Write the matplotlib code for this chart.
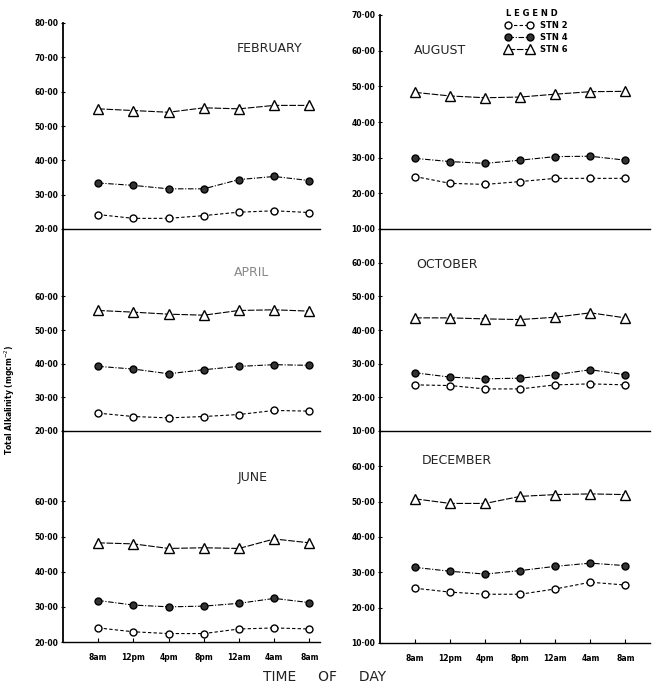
import matplotlib
matplotlib.use("Agg")
import matplotlib.pyplot as plt
from matplotlib.lines import Line2D

# ---------------- data ----------------
times = ["8am", "12pm", "4pm", "8pm", "12am", "4am", "8am"]
stations = ["STN 2", "STN 4", "STN 6"]

feb_stn2 = [24.2, 23.1, 23.1, 23.9, 24.9, 25.3, 24.8]
feb_stn4 = [33.4, 32.7, 31.7, 31.7, 34.4, 35.3, 34.1]
feb_stn6 = [55.0, 54.5, 54.0, 55.3, 55.0, 56.0, 56.0]

apr_stn2 = [25.3, 24.3, 23.9, 24.3, 24.9, 26.1, 25.9]
apr_stn4 = [39.2, 38.4, 37.0, 38.2, 39.2, 39.7, 39.5]
apr_stn6 = [55.8, 55.3, 54.7, 54.4, 55.8, 56.0, 55.6]

jun_stn2 = [24.0, 22.9, 22.4, 22.4, 23.7, 24.0, 23.7]
jun_stn4 = [31.8, 30.5, 30.0, 30.2, 31.0, 32.4, 31.2]
jun_stn6 = [48.2, 47.9, 46.6, 46.8, 46.6, 49.3, 48.2]

aug_stn2 = [24.7, 22.8, 22.5, 23.3, 24.2, 24.2, 24.2]
aug_stn4 = [29.8, 28.9, 28.4, 29.3, 30.3, 30.4, 29.3]
aug_stn6 = [48.3, 47.3, 46.8, 47.0, 47.8, 48.5, 48.6]

oct_stn2 = [23.7, 23.5, 22.5, 22.5, 23.7, 24.0, 23.7]
oct_stn4 = [27.3, 26.0, 25.5, 25.7, 26.7, 28.2, 26.7]
oct_stn6 = [43.6, 43.6, 43.3, 43.1, 43.8, 45.1, 43.6]

dec_stn2 = [25.5, 24.4, 23.8, 23.8, 25.3, 27.2, 26.4]
dec_stn4 = [31.4, 30.3, 29.5, 30.5, 31.7, 32.6, 31.9]
dec_stn6 = [50.8, 49.5, 49.5, 51.5, 52.0, 52.2, 52.0]

feb_ticks = [20, 30, 40, 50, 60, 70, 80]
apr_ticks = [20, 30, 40, 50, 60]
jun_ticks = [20, 30, 40, 50, 60]
aug_ticks = [10, 20, 30, 40, 50, 60, 70]
oct_ticks = [10, 20, 30, 40, 50, 60]
dec_ticks = [10, 20, 30, 40, 50, 60]

# ---------------- layout ----------------
W, H = 657, 690
fig = plt.figure(figsize=(W / 100, H / 100), dpi=100)
plt.rcParams['font.family'] = ['DejaVu Sans']

def px_axes(x0, y0, x1, y1):
    # pixel coords with y measured from top
    return fig.add_axes([x0 / W, 1 - y1 / H, (x1 - x0) / W, (y1 - y0) / H])

panels = [
    # name, data, ticks, ylim, rect, title pos (px), bottom?, col
    ("FEBRUARY", (feb_stn2, feb_stn4, feb_stn6), feb_ticks, (20, 80), (63, 23, 320, 229), (270, 48), False, 0),
    ("APRIL", (apr_stn2, apr_stn4, apr_stn6), apr_ticks, (20, 80), (63, 229, 320, 431), (252, 272), False, 0),
    ("JUNE", (jun_stn2, jun_stn4, jun_stn6), jun_ticks, (20, 80), (63, 431, 320, 642), (253, 477), True, 0),
    ("AUGUST", (aug_stn2, aug_stn4, aug_stn6), aug_ticks, (10, 70), (380, 15, 650, 229), (440, 50), False, 1),
    ("OCTOBER", (oct_stn2, oct_stn4, oct_stn6), oct_ticks, (10, 70), (380, 229, 650, 431), (447, 265), False, 1),
    ("DECEMBER", (dec_stn2, dec_stn4, dec_stn6), dec_ticks, (10, 70), (380, 431, 650, 643), (457, 461), True, 1),
]

styles = [
    dict(marker='o', ms=5, mfc='white', mec='black', mew=1.0, ls=(0, (3, 2)), lw=0.8, color='black'),
    dict(marker='o', ms=5, mfc='#333333', mec='black', mew=1.0, ls=(0, (5, 1.5, 1, 1.5)), lw=0.8, color='black'),
    dict(marker='^', ms=7, mfc='white', mec='black', mew=1.0, ls=(0, (6, 1.5)), lw=0.8, color='black'),
]

x = list(range(len(times)))
for name, series, ticks, ylim, rect, tpos, bottom, col in panels:
    ax = px_axes(*rect)
    for s, st in zip(series, styles):
        ax.plot(x, s, **st)
    ax.set_ylim(*ylim)
    ax.set_xlim(-1, 6.3 if col == 0 else 6.7)
    ax.set_yticks(ticks)
    ax.set_yticklabels([f"{t:.2f}".replace('.', '·') for t in ticks],
                       fontsize=5.5, fontweight='bold')
    ax.tick_params(axis='y', direction='inout', length=3, width=0.8, pad=2)
    for sp in ('top', 'right'):
        ax.spines[sp].set_visible(False)
    ax.spines['left'].set_linewidth(1.3)
    ax.spines['bottom'].set_linewidth(1.0)
    if bottom:
        ax.set_xticks(x)
        ax.set_xticklabels(times, fontsize=5.5, fontweight='bold')
        ax.tick_params(axis='x', direction='in', length=3, width=0.8, pad=8)
    else:
        ax.set_xticks([])
    ax.patch.set_alpha(0)
    fig.text(tpos[0] / W, 1 - tpos[1] / H, name, fontsize=9,
             ha='center', va='center', color='#222222' if name != "APRIL" else '#888888')

fig.text(10 / W, 1 - 400 / H, "Total Alkalinity (mgcm$^{-2}$)", rotation=90,
         fontsize=5.5, fontweight='bold', ha='center', va='center')
fig.text(325 / W, 1 - 677 / H, "TIME     OF     DAY", fontsize=10,
         ha='center', va='center', color='#222222')

handles = [Line2D([0], [0], **st) for st in styles]
leg = fig.legend(handles, stations, loc='upper left',
                 bbox_to_anchor=(498 / W, 1 - 2 / H), frameon=False,
                 title="L E G E N D", numpoints=2, handlelength=3.2,
                 fontsize=6, labelspacing=0.35, handletextpad=1.0)
leg.get_title().set_fontsize(6)
leg.get_title().set_fontweight('bold')
for t in leg.get_texts():
    t.set_fontweight('bold')
leg._legend_box.align = "left"

fig.savefig("out.png", dpi=100)
